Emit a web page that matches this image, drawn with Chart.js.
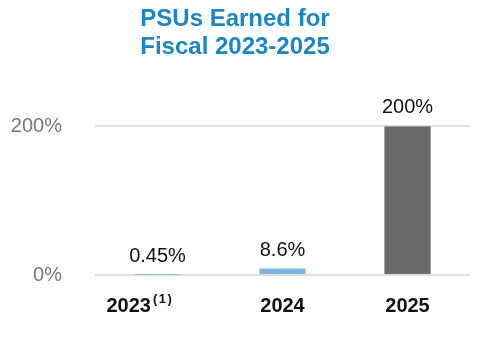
<!DOCTYPE html>
<html>
<head>
<meta charset="utf-8">
<script src="https://cdn.jsdelivr.net/npm/chart.js@4/dist/chart.umd.min.js"></script>
<style>
  html, body { margin: 0; padding: 0; background: #fff; }
  #wrap { width: 480px; height: 344px; position: relative; }
</style>
</head>
<body>
<div id="wrap"><canvas id="psuChart"></canvas></div>
<script>
// ── Data ─────────────────────────────────────────────────────────────
const years = ["2023", "2024", "2025"];
const yearNotes = ["(1)", "", ""];
const earnedPct = [0.45, 8.6, 200];
const valueLabels = ["0.45%", "8.6%", "200%"];
const yTicks = [0, 200];
const barColors = ["#7db7de", "#7db7de", "#6b6b6b"];

const FONT = "'Liberation Sans', Arial, Helvetica, sans-serif";

// value labels above each bar
const valueLabelPlugin = {
  id: "valueLabelPlugin",
  afterDatasetsDraw(chart) {
    const { ctx } = chart;
    const meta = chart.getDatasetMeta(0);
    ctx.save();
    ctx.font = "400 20px " + FONT;
    ctx.fillStyle = "#111";
    ctx.textAlign = "center";
    ctx.textBaseline = "middle";
    meta.data.forEach((bar, i) => {
      ctx.fillText(valueLabels[i], bar.x, bar.y - 18.5);
    });
    ctx.restore();
  },
};

// bold year labels (with footnote marker) under the axis
const yearLabelPlugin = {
  id: "yearLabelPlugin",
  afterDraw(chart) {
    const { ctx } = chart;
    const xScale = chart.scales.x;
    ctx.save();
    ctx.fillStyle = "#111";
    ctx.textBaseline = "alphabetic";
    ctx.textAlign = "left";
    years.forEach((year, i) => {
      const cx = xScale.getPixelForTick(i);
      ctx.font = "700 20px " + FONT;
      const w = ctx.measureText(year).width;
      // footnoted label sits left of its bar in the original
      const left = yearNotes[i] ? cx - 51 : cx - w / 2;
      ctx.fillText(year, left, 312);
      if (yearNotes[i]) {
        ctx.font = "700 13px " + FONT;
        ctx.letterSpacing = "1.5px";
        ctx.fillText(yearNotes[i], left + w + 2, 302.5);
        ctx.letterSpacing = "0px";
      }
    });
    ctx.restore();
  },
};

new Chart(document.getElementById("psuChart"), {
  type: "bar",
  data: {
    labels: years,
    datasets: [
      {
        data: earnedPct,
        backgroundColor: barColors,
        borderWidth: 0,
        barPercentage: 0.37,
        categoryPercentage: 1.0,
      },
    ],
  },
  options: {
    responsive: true,
    maintainAspectRatio: false,
    animation: false,
    layout: { padding: { left: 0, right: 10, top: 0, bottom: 0 } },
    plugins: {
      legend: { display: false },
      tooltip: { enabled: false },
      title: {
        display: true,
        text: ["PSUs Earned for", "Fiscal 2023-2025"],
        color: "#1b86c4",
        font: { family: FONT, size: 24, weight: "700", lineHeight: 1.15 },
        padding: { top: 6, bottom: 65 },
      },
    },
    scales: {
      x: {
        grid: { display: false },
        border: { display: false },
        ticks: { display: false },
        afterFit(scale) {
          scale.height = 69;
        },
      },
      y: {
        min: 0,
        max: 200,
        afterBuildTicks(scale) {
          scale.ticks = yTicks.map((v) => ({ value: v }));
        },
        afterFit(scale) {
          scale.width = 95;
        },
        border: { display: false },
        grid: { color: "#e0e0e0", lineWidth: 2, drawTicks: false },
        ticks: {
          padding: 33,
          color: "#777",
          font: { family: FONT, size: 20 },
          callback: (v) => v + "%",
        },
      },
    },
  },
  plugins: [valueLabelPlugin, yearLabelPlugin],
});
</script>
</body>
</html>
